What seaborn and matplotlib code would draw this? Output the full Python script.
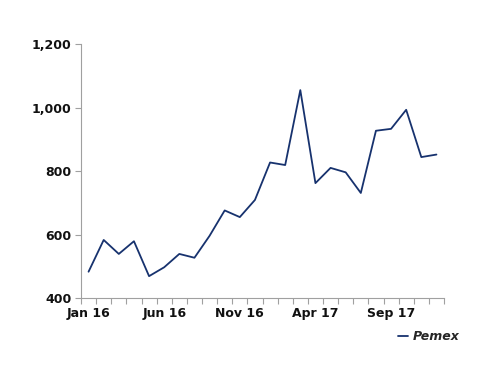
import numpy as np
import pandas as pd
import matplotlib
matplotlib.use("Agg")
import matplotlib.pyplot as plt
from matplotlib.ticker import FuncFormatter, FixedLocator
import seaborn as sns

# monthly values, Jan 16 - Dec 17
months = ['Jan 16', 'Feb 16', 'Mar 16', 'Apr 16', 'May 16', 'Jun 16',
          'Jul 16', 'Aug 16', 'Sep 16', 'Oct 16', 'Nov 16', 'Dec 16',
          'Jan 17', 'Feb 17', 'Mar 17', 'Apr 17', 'May 17', 'Jun 17',
          'Jul 17', 'Aug 17', 'Sep 17', 'Oct 17', 'Nov 17', 'Dec 17']
pemex = [484, 584, 540, 580, 470, 498, 540, 528, 597, 677, 656, 710,
         828, 820, 1056, 763, 811, 797, 732, 928, 934, 994, 845, 853]
shown_labels = ['Jan 16', 'Jun 16', 'Nov 16', 'Apr 17', 'Sep 17']

df = pd.DataFrame({'month': months, 'value': pemex})
df['pos'] = np.arange(len(df))

sns.set_style('white')
plt.rcParams['font.family'] = ['DejaVu Sans']

fig = plt.figure(figsize=(5, 3.86), dpi=100)
ax = fig.add_axes([0.162, 0.227, 0.726, 0.658])

sns.lineplot(data=df, x='pos', y='value', ax=ax, color='#17326e',
             linewidth=1.3, label='Pemex')

ax.set_xlim(-0.5, len(months) - 0.5)
ax.set_ylim(400, 1200)
ax.set_yticks([400, 600, 800, 1000, 1200])
ax.yaxis.set_major_formatter(FuncFormatter(lambda v, p: f'{int(v):,}'))

major_pos = [months.index(m) for m in shown_labels]
ax.set_xticks(major_pos)
ax.set_xticklabels(shown_labels)
ax.xaxis.set_minor_locator(FixedLocator(np.arange(-0.5, len(months), 1)))
ax.tick_params(axis='x', which='major', length=0, pad=6)
ax.tick_params(axis='x', which='minor', length=4, color='#a0a0a0', width=0.8,
               direction='out', bottom=True)
ax.tick_params(axis='y', which='major', length=4, color='#a0a0a0', width=0.8,
               direction='out', left=True, pad=3)
ax.tick_params(labelsize=9, labelcolor='#111111')
for lab in ax.get_xticklabels() + ax.get_yticklabels():
    lab.set_fontweight('semibold')

ax.set_xlabel('')
ax.set_ylabel('')
for s in ['top', 'right']:
    ax.spines[s].set_visible(False)
for s in ['left', 'bottom']:
    ax.spines[s].set_color('#a0a0a0')
    ax.spines[s].set_linewidth(0.8)

leg = ax.legend(loc='upper right', bbox_to_anchor=(1.044, -0.125), frameon=False,
                handlelength=0.8, handletextpad=0.4, borderpad=0,
                borderaxespad=0,
                prop={'style': 'italic', 'weight': 'bold', 'size': 9})

fig.savefig('out.png', dpi=100)
